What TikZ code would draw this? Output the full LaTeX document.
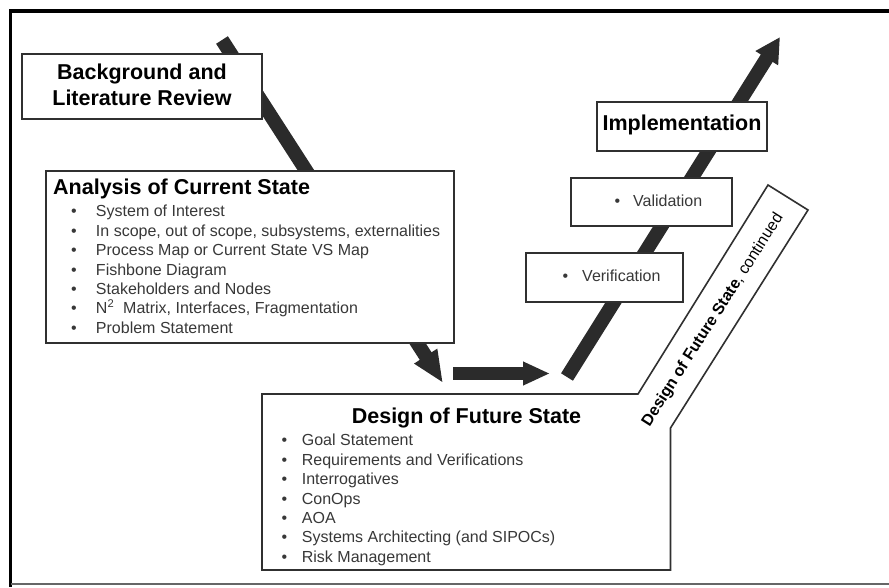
\documentclass[tikz,border=0pt]{standalone}
\usepackage{fontspec}
\setmainfont{Liberation Sans}
\usetikzlibrary{arrows.meta}

\definecolor{ink}{HTML}{2B2B2B}
\definecolor{edge}{HTML}{303030}
\definecolor{bodytext}{HTML}{383838}

\begin{document}
\begin{tikzpicture}[x=1pt,y=-1pt,
  box/.style={draw=edge, line width=1.6pt, fill=white, inner sep=0pt},
  flow/.style={draw=ink, line width=14pt, line cap=butt},
  ttl/.style={font=\fontsize{21.5}{26.7}\selectfont\bfseries, inner sep=0pt, text=black},
  item/.style={font=\fontsize{16}{19.5}\selectfont, text=bodytext, inner sep=0pt, anchor=base west},
]
\useasboundingbox (0,0) rectangle (889,587);

% outer frame
\draw[line width=3.8pt] (10.5,587) -- (10.5,11) -- (889,11);
\draw[line width=1.5pt, color=black!60] (10.5,584) -- (889,584);

% end points of the flow arrows
\coordinate (p1s) at (222,40);
\coordinate (p1e) at (443,383);
\coordinate (p2s) at (453,373.5);
\coordinate (p2e) at (550,373.5);
\coordinate (p3s) at (567,377);
\coordinate (p3e) at (780,37);

% flow arrows (drawn first, boxes sit on top)
\draw[flow, -{Triangle[length=32pt, width=25pt]}] (p1s) -- (p1e);
\draw[flow, line width=13pt, -{Triangle[length=27pt, width=22pt]}] (p2s) -- (p2e);
\draw[flow, -{Triangle[length=25pt, width=25pt]}] (p3s) -- (p3e);

% background box
\node[box, minimum width=240pt, minimum height=65pt] (bg) at (142,86.5) {};
\node[ttl, anchor=base] (bg1) at (142,79) {Background and};
\node[ttl, anchor=base] (bg2) at (142,105.7) {Literature Review};

% analysis of current state
\node[box, minimum width=408pt, minimum height=172pt] (acs) at (250,257) {};
\node[ttl, anchor=base west] (acsT) at (53,194) {Analysis of Current State};
\foreach \t [count=\i] in {System of Interest,
    {In scope, out of scope, subsystems, externalities},
    Process Map or Current State VS Map,
    Fishbone Diagram,
    Stakeholders and Nodes,
    {N\textsuperscript{2}\ \ Matrix, Interfaces, Fragmentation},
    Problem Statement}
  \node[item] (acs\i) at (71,{216.7+(\i-1)*19.45}) {\makebox[24.8pt][l]{\textbullet}\t};

% design of future state, with its slanted continuation band
\coordinate (d1) at (262,394);
\coordinate (d2) at (638,394);
\coordinate (d3) at (768,185);
\coordinate (d4) at (808,210);
\coordinate (d5) at (670.5,428);
\coordinate (d6) at (670.5,570);
\coordinate (d7) at (262,570);
\draw[draw=edge, line width=1.6pt, fill=white, line join=miter]
  (d1) -- (d2) -- (d3) -- (d4) -- (d5) -- (d6) -- (d7) -- cycle;
\node[ttl, anchor=base] (dfsT) at (466.5,423.3) {Design of Future State};
\foreach \t [count=\i] in {Goal Statement,
    Requirements and Verifications,
    Interrogatives,
    ConOps,
    AOA,
    Systems Architecting (and SIPOCs),
    Risk Management}
  \node[item] (dfs\i) at (281.5,{445.7+(\i-1)*19.45}) {\makebox[20.2pt][l]{\textbullet}\t};
\node[font=\fontsize{16}{19.5}\selectfont, inner sep=0pt, rotate=57.5] (cont) at (713,320)
  {\textbf{Design of Future State}, continued};

% implementation stages
\node[box, minimum width=157pt, minimum height=49pt] (ver) at (604.5,277.5) {};
\node[item] (verT) at (562.5,281.7) {\makebox[19.5pt][l]{\textbullet}Verification};
\node[box, minimum width=161pt, minimum height=48pt] (val) at (651.5,202) {};
\node[item] (valT) at (614.5,206.7) {\makebox[18.5pt][l]{\textbullet}Validation};
\node[box, minimum width=170pt, minimum height=49pt] (imp) at (682,126.5) {};
\node[ttl, anchor=base] (impT) at (682,130) {Implementation};
\end{tikzpicture}
\end{document}
